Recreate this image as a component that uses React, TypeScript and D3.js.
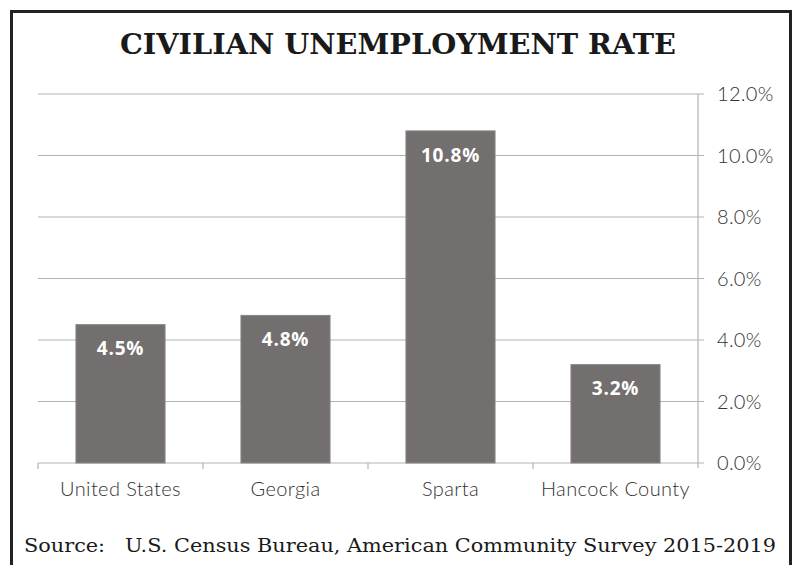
import React from "react";
import * as d3 from "d3";

const categories = ["United States", "Georgia", "Sparta", "Hancock County"];
const values = [4.5, 4.8, 10.8, 3.2];
const yTicks = [0, 2, 4, 6, 8, 10, 12];
const title = "CIVILIAN UNEMPLOYMENT RATE";
const source = "Source:   U.S. Census Bureau, American Community Survey 2015-2019";

export default function App() {
  const W = 794, H = 565;
  const left = 38, right = 698, top = 94, bottom = 463;
  const x = d3.scaleBand<string>().domain(categories).range([left, right]).paddingInner(0.46).paddingOuter(0.23);
  const xb = d3.scaleBand<string>().domain(categories).range([left, right]);
  const y = d3.scaleLinear().domain([0, 12]).range([bottom, top]);
  const grid = "#b3b3b3";
  const lightFont = "'Lato', 'Open Sans', sans-serif";
  return (
    <svg width={W} height={H} style={{ position: "absolute", left: 0, top: 0, background: "#fff" }}>
      <rect x={11.5} y={11.5} width={779} height={H} fill="#fff" stroke="#222" strokeWidth={3} />
      <text x={398} y={54} textAnchor="middle" fontFamily="'DejaVu Serif', serif" fontWeight="bold" fontSize={28} fill="#1a1a1a" textLength={556} lengthAdjust="spacingAndGlyphs">{title}</text>
      {yTicks.map((t) => (
        <g key={t}>
          <line x1={left} x2={right + 6} y1={y(t)} y2={y(t)} stroke={grid} strokeWidth={1.2} />
          <text x={717} y={y(t)} dy="0.35em" fontFamily={lightFont} fontWeight={300} fontSize={20} letterSpacing={0.3} fill="#333">{t.toFixed(1)}%</text>
        </g>
      ))}
      <line x1={right} x2={right} y1={top} y2={bottom + 5} stroke={grid} strokeWidth={1.2} />
      {categories.map((c) => (
        <line key={"t" + c} x1={xb(c)!} x2={xb(c)!} y1={bottom} y2={bottom + 6} stroke={grid} strokeWidth={1.2} />
      ))}
      {categories.map((c, i) => (
        <g key={c}>
          <rect x={x(c)!} y={y(values[i])} width={x.bandwidth()} height={bottom - y(values[i])} fill="#736f6e" stroke="#8a8685" strokeWidth={1} />
          <text x={x(c)! + x.bandwidth() / 2} y={y(values[i]) + 24} dy="0.35em" textAnchor="middle" fontFamily="'Open Sans', sans-serif" fontWeight="bold" fontSize={19} letterSpacing={0.8} fill="#fff">{values[i].toFixed(1)}%</text>
          <text x={xb(c)! + xb.bandwidth() / 2} y={489} dy="0.35em" textAnchor="middle" fontFamily={lightFont} fontWeight={300} fontSize={20} letterSpacing={0.4} fill="#333">{c}</text>
        </g>
      ))}
      <text x={24} y={552} fontFamily="'DejaVu Serif', serif" fontSize={19} fill="#1a1a1a" textLength={752} lengthAdjust="spacingAndGlyphs" xmlSpace="preserve">{source}</text>
    </svg>
  );
}
